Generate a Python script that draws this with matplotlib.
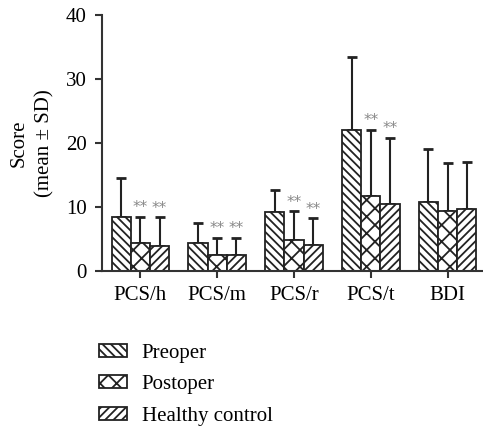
import matplotlib
matplotlib.use('Agg')

import numpy as np
import matplotlib.pyplot as plt

plt.rcParams['font.family'] = ['Liberation Serif', 'DejaVu Serif']
plt.rcParams['hatch.linewidth'] = 1.3

# Data (mean and SD per group)
categories = ["PCS/h", "PCS/m", "PCS/r", "PCS/t", "BDI"]
groups = ["Preoper", "Postoper", "Healthy control"]
mean_pre = [8.5, 4.4, 9.2, 22.0, 10.7]
sd_pre = [6.1, 3.1, 3.5, 11.4, 8.3]
mean_post = [4.3, 2.5, 4.9, 11.7, 9.3]
sd_post = [4.2, 2.7, 4.4, 10.4, 7.5]
mean_hc = [3.9, 2.5, 4.0, 10.4, 9.6]
sd_hc = [4.5, 2.7, 4.2, 10.4, 7.4]
# significance markers (Postoper, Healthy control) per category
sig_post = ["**", "**", "**", "**", ""]
sig_hc = ["**", "**", "**", "**", ""]

means = [mean_pre, mean_post, mean_hc]
sds = [sd_pre, sd_post, sd_hc]
sigs = [None, sig_post, sig_hc]
hatches = ['\\\\\\\\', 'xx', '////']

fig = plt.figure(figsize=(4.83, 4.28), dpi=100)
ax = fig.add_axes([0.211, 0.367, 0.789, 0.598])

x = np.arange(len(categories))
w = 0.25
for i, g in enumerate(groups):
    pos = x + (i - 1) * w
    ax.errorbar(pos, means[i], yerr=[np.zeros(len(x)), sds[i]], fmt='none',
                ecolor='#222222', elinewidth=1.5, capsize=3.6, capthick=2, zorder=1)
    ax.bar(pos, means[i], width=w, facecolor='white', edgecolor='#222222',
           linewidth=1.3, hatch=hatches[i], label=g, zorder=2)
    if sigs[i] is not None:
        for p, m, s, t in zip(pos, means[i], sds[i], sigs[i]):
            if t:
                ax.annotate(t, (p, m + s), xytext=(0, 1), textcoords='offset points',
                            ha='center', va='bottom', fontsize=11, color='#888888',
                            family='DejaVu Sans')

ax.set_xlim(-0.5, 4.46)
ax.set_ylim(0, 40)
ax.set_yticks([0, 10, 20, 30, 40])
ax.set_xticks(x)
ax.set_xticklabels(categories)
ax.tick_params(labelsize=15, width=1.5, length=5, color='#333333', pad=6)
ax.spines['top'].set_visible(False)
ax.spines['right'].set_visible(False)
for s in ['left', 'bottom']:
    ax.spines[s].set_linewidth(1.5)
    ax.spines[s].set_color('#333333')

ax.set_ylabel("Score\n(mean ± SD)", fontsize=15, linespacing=1.45)
ax.yaxis.set_label_coords(-0.125, 0.5)

fig.legend(loc='upper left', bbox_to_anchor=(0.205, 0.197), frameon=False,
           fontsize=15, handlelength=1.35, handleheight=0.6, handletextpad=0.7,
           labelspacing=0.6, borderaxespad=0, borderpad=0)

fig.savefig("out.png", dpi=100)
plt.close()
